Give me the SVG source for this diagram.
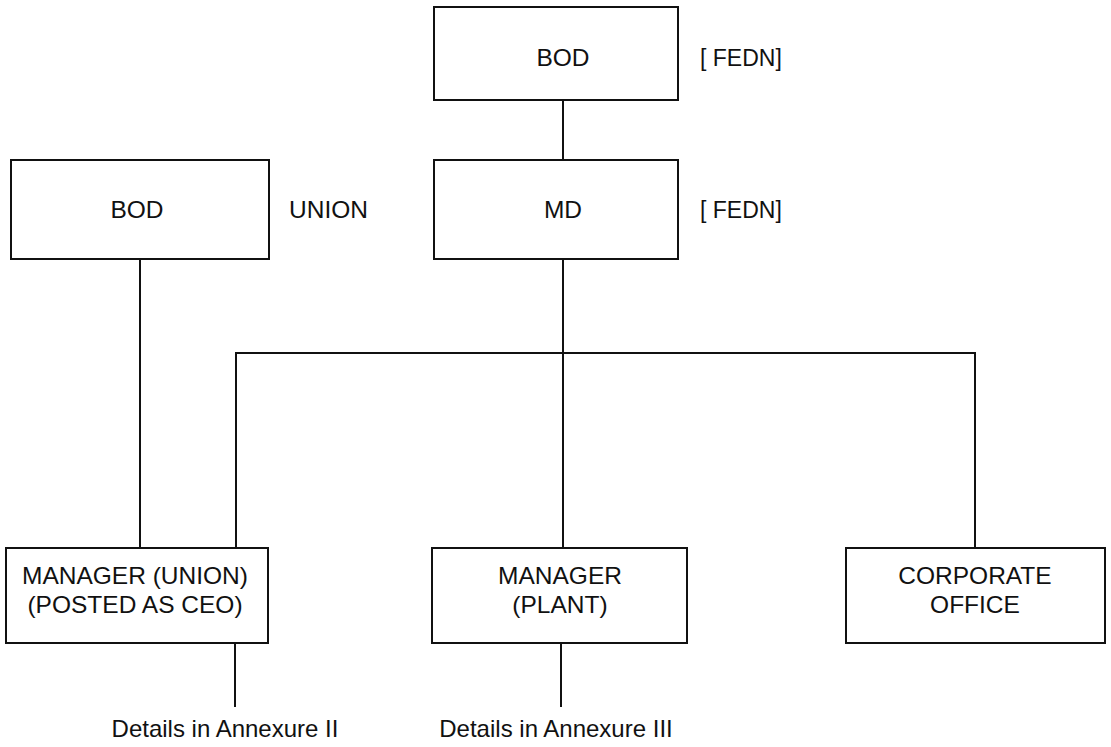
<svg xmlns="http://www.w3.org/2000/svg" width="1111" height="747" viewBox="0 0 1111 747">
<style>
.box{fill:#fff;stroke:#111;stroke-width:2}
.ln{stroke:#111;stroke-width:2;fill:none}
text{font-family:"Liberation Sans",Arial,sans-serif;fill:#111;font-size:24.5px;text-anchor:middle}
.sm{font-size:24px}
.lft{text-anchor:start}
.fd{font-size:23px}
</style>
<rect width="1111" height="747" fill="#fff"/>
<g id="connectors">
<line class="ln" x1="563" y1="100" x2="563" y2="160"/>
<line class="ln" x1="140" y1="259" x2="140" y2="548"/>
<line class="ln" x1="563" y1="259" x2="563" y2="548"/>
<polyline class="ln" points="236,548 236,353 975,353 975,548"/>
<line class="ln" x1="235" y1="643" x2="235" y2="707"/>
<line class="ln" x1="561" y1="643" x2="561" y2="707"/>
</g>
<g id="bod-fedn"><rect class="box" x="434" y="7" width="244" height="93"/><text x="563" y="66">BOD</text></g>
<g id="label-fedn-1"><text class="lft fd" x="700" y="66">[ FEDN]</text></g>
<g id="bod-union"><rect class="box" x="11" y="160" width="258" height="99"/><text x="137" y="218">BOD</text></g>
<g id="label-union"><text class="lft" x="289" y="218">UNION</text></g>
<g id="md"><rect class="box" x="434" y="160" width="244" height="99"/><text x="563" y="218">MD</text></g>
<g id="label-fedn-2"><text class="lft fd" x="700" y="218">[ FEDN]</text></g>
<g id="manager-union"><rect class="box" x="6" y="548" width="262" height="95"/><text x="135" y="584">MANAGER (UNION)</text><text x="135" y="613">(POSTED AS CEO)</text></g>
<g id="manager-plant"><rect class="box" x="432" y="548" width="255" height="95"/><text x="560" y="584">MANAGER</text><text x="560" y="613">(PLANT)</text></g>
<g id="corporate-office"><rect class="box" x="846" y="548" width="259" height="95"/><text x="975" y="584">CORPORATE</text><text x="975" y="613">OFFICE</text></g>
<g id="details-2"><text class="sm" x="225" y="737">Details in Annexure II</text></g>
<g id="details-3"><text class="sm" x="556" y="737">Details in Annexure III</text></g>
</svg>
